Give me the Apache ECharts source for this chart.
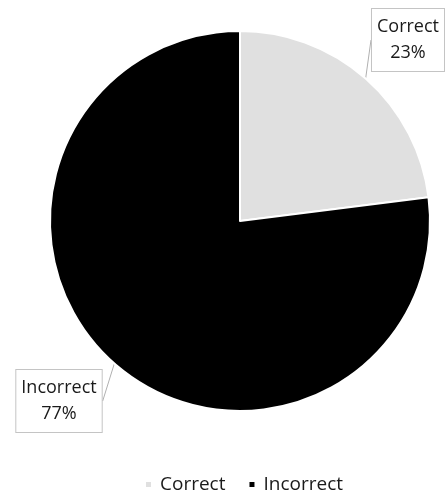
<!DOCTYPE html>
<html>
<head>
<meta charset="utf-8">
<script src="https://cdn.jsdelivr.net/npm/echarts@6/dist/echarts.min.js"></script>
<style>html,body{margin:0;padding:0;background:#fff;}#c{width:445px;height:493px;}</style>
</head>
<body>
<div id="c"></div>
<script>
var categories = ['Correct', 'Incorrect'];
var values = [23, 77];
var colors = ['#e0e0e0', '#000000'];

var chart = echarts.init(document.getElementById('c'));
var labelPos = [[408, 40], [59, 401]];
chart.setOption({
  animation: false,
  color: colors,
  legend: {
    top: 470,
    left: 139,
    itemWidth: 7,
    itemHeight: 7,
    itemGap: 22,
    icon: 'rect',
    textStyle: {fontFamily: 'Open Sans', fontSize: 19, color: '#1a1a1a', padding: [0, 0, 0, 3]},
    data: categories
  },
  series: [{
    type: 'pie',
    left: -200, right: -200, top: 0, bottom: 0,
    center: [440, 221],
    radius: 190,
    startAngle: 90,
    clockwise: true,
    itemStyle: {borderColor: '#fff', borderWidth: 2},
    label: {
      show: true,
      position: 'outside',
      formatter: '{b}\n{d}%',
      fontFamily: 'Open Sans',
      fontSize: 18,
      lineHeight: 26,
      color: '#1a1a1a',
      align: 'center',
      overflow: 'none',
      backgroundColor: '#fff',
      borderColor: '#c4c4c4',
      borderWidth: 1,
      padding: [5, 5, 5, 5]
    },
    labelLine: {show: true, length: 0, length2: 0, lineStyle: {color: '#b0b0b0', width: 1}},
    labelLayout: function (p) {
      var pos = labelPos[p.dataIndex];
      return {x: pos[0], y: pos[1], align: 'center', verticalAlign: 'middle'};
    },
    data: categories.map(function (c, i) { return {name: c, value: values[i]}; })
  }]
});
</script>
</body>
</html>
